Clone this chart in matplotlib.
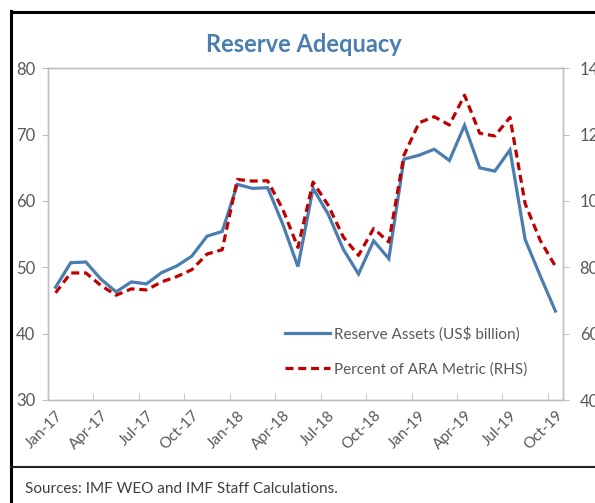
import numpy as np
import matplotlib
matplotlib.use("Agg")
import matplotlib.pyplot as plt
from matplotlib.lines import Line2D

plt.rcParams['font.family'] = ['Lato', 'DejaVu Sans']

months = ['Jan-17', 'Feb-17', 'Mar-17', 'Apr-17', 'May-17', 'Jun-17', 'Jul-17', 'Aug-17',
          'Sep-17', 'Oct-17', 'Nov-17', 'Dec-17', 'Jan-18', 'Feb-18', 'Mar-18', 'Apr-18',
          'May-18', 'Jun-18', 'Jul-18', 'Aug-18', 'Sep-18', 'Oct-18', 'Nov-18', 'Dec-18',
          'Jan-19', 'Feb-19', 'Mar-19', 'Apr-19', 'May-19', 'Jun-19', 'Jul-19', 'Aug-19',
          'Sep-19', 'Oct-19']
# reserve assets, US$ billion (LHS)
reserves = [47.0, 50.7, 50.8, 48.2, 46.3, 47.8, 47.5, 49.2, 50.2, 51.7, 54.7, 55.4,
            62.5, 61.9, 62.0, 56.5, 50.1, 61.9, 58.0, 52.7, 49.0, 54.0, 51.3, 66.3,
            66.9, 67.8, 66.1, 71.4, 65.0, 64.5, 67.7, 54.2, 48.7, 43.4]
# percent of ARA metric (RHS)
ara = [72.3, 78.3, 78.3, 74.5, 71.6, 73.5, 73.2, 75.6, 77.2, 79.3, 84.0, 85.3,
       106.5, 106.0, 106.1, 97.5, 86.0, 105.7, 98.7, 89.1, 83.6, 91.7, 87.6, 113.8,
       123.6, 125.4, 122.9, 131.9, 120.4, 119.6, 125.2, 99.2, 88.1, 80.3]

BLUE = '#4A7EB0'
RED = '#C00000'
GRAY = '#595959'
SPINE = '#BFBFBF'

W, H = 595, 503
fig = plt.figure(figsize=(W/100, H/100), dpi=100)
ax = fig.add_axes([48/W, 1-400/H, (563-48)/W, (400-68.3)/H])
ax2 = ax.twinx()

x = np.arange(len(months))
l1, = ax.plot(x, reserves, color=BLUE, lw=2.3, solid_joinstyle='miter',
              label='Reserve Assets (US$ billion)')
l2, = ax2.plot(x, ara, color=RED, lw=2.3, ls=(0, (2.5, 1.5)),
               label='Percent of ARA Metric (RHS)')

ax.set_xlim(-0.5, len(months) - 0.5)
ax.set_ylim(30, 80)
ax.set_yticks(np.arange(30, 81, 10))
ax2.set_ylim(40, 140)
ax2.set_yticks(np.arange(40, 141, 20))

ax.set_xticks(x[::3])
ax.set_xticklabels(months[::3], rotation=45, ha='right', va='top',
                   rotation_mode='anchor')
ax.set_xticks(np.arange(2.5, len(months) - 0.5, 3), minor=True)
ax.tick_params(axis='x', which='major', length=0, pad=6, labelsize=11, labelcolor=GRAY)
ax.tick_params(axis='x', which='minor', length=5, direction='in', color=SPINE)
ax.tick_params(axis='y', length=4, color=SPINE, labelsize=12, labelcolor=GRAY, pad=5)
ax2.tick_params(axis='y', length=4, color=SPINE, labelsize=12, labelcolor=GRAY, pad=8)

for a in (ax, ax2):
    for s in a.spines.values():
        s.set_color(SPINE)
        s.set_linewidth(1.0)

leg = ax.legend([l1, l2], [l1.get_label(), l2.get_label()], frameon=False,
                loc='upper left', bbox_to_anchor=(279/W, 1-320/H),
                bbox_transform=fig.transFigure, fontsize=11, handlelength=2.95,
                handletextpad=0.25, labelspacing=1.35, borderaxespad=0)
for t in leg.get_texts():
    t.set_color(GRAY)

fig.text(304/W, 1-44/H, 'Reserve Adequacy', ha='center', va='center',
         fontsize=17, fontweight='bold', color=BLUE)
fig.text(25/W, 1-489/H, 'Sources: IMF WEO and IMF Staff Calculations.',
         ha='left', va='center', fontsize=11, color='#404040')

# panel frame
fig.add_artist(Line2D([11/W, 11/W], [0, 1-11/H], color='black', lw=2.2))
fig.add_artist(Line2D([11/W, 1], [1-12/H, 1-12/H], color='black', lw=2.2))
fig.add_artist(Line2D([11/W, 1], [1-467/H, 1-467/H], color='#222222', lw=1.5))

fig.savefig('out.png', dpi=100)
